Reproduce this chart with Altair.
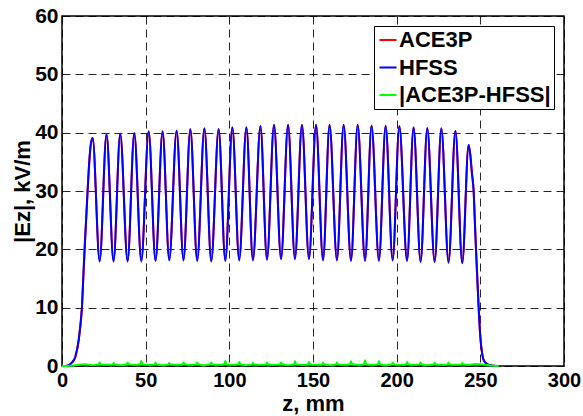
import altair as alt
import pandas as pd

# ---- data ----
series_names = ["ACE3P", "HFSS", "|ACE3P-HFSS|"]
series_colors = ["#ff0000", "#0000ff", "#00ff00"]

x_ticks = [0, 50, 100, 150, 200, 250, 300]
y_ticks = [0, 10, 20, 30, 40, 50, 60]

# entrance ramp (z in mm, |Ez| in kV/m)
rise_z = [0, 2, 4, 6, 8, 10, 11, 11.9, 12.7, 13.5, 14.4, 15.3, 16.3, 17.2]
rise_v = [0, 0.02, 0.15, 0.6, 1.6, 4.5, 7, 10, 15, 20, 25, 30, 35, 38]

# field maxima
peak_z = [18.3, 26.6, 34.8, 43.2, 51.8, 60.1, 68.5, 76.7, 85.1, 93.6,
          101.8, 110.2, 118.6, 126.7, 135.1, 143.4, 151.8, 159.9, 168.3, 176.7,
          185.0, 193.4, 201.6, 210.1, 218.3, 226.7, 235.1, 243.0]
peak_v = [39.1, 39.7, 39.8, 39.9, 40.2, 40.2, 40.35, 40.6, 40.7, 40.6,
          40.9, 40.9, 41.1, 41.3, 41.3, 41.3, 41.3, 41.3, 41.3, 41.3,
          41.2, 41.15, 41.1, 40.9, 40.75, 40.7, 40.3, 37.9]

# field minima
trough_z = [22.5, 30.8, 39.2, 47.4, 55.9, 64.1, 72.6, 80.8, 89.2, 97.6,
            105.9, 114.1, 122.5, 130.9, 139.2, 147.6, 156.0, 164.3, 172.7, 181.1,
            189.4, 197.6, 206.2, 214.3, 222.7, 231.0, 239.2]
hfss_trough_v = [17.9, 17.9, 17.9, 17.9, 18.0, 18.1, 18.1, 18.0, 17.9, 18.0,
                 18.1, 18.1, 18.2, 18.3, 18.3, 18.3, 18.1, 18.1, 18.0, 18.0,
                 18.0, 18.1, 18.0, 17.8, 17.8, 17.7, 17.6]
ace3p_trough_v = [18.1, 18.1, 18.1, 18.2, 18.2, 18.3, 18.3, 18.2, 18.1, 18.3,
                  18.3, 18.3, 18.4, 18.5, 18.6, 18.5, 18.3, 18.3, 18.3, 18.4,
                  18.3, 18.3, 18.2, 18.0, 18.0, 17.9, 17.8]

# exit ramp
fall_z = [244.0, 245.0, 246.0, 246.7, 247.4, 248.2, 249.0, 250.0, 251.0, 252.0,
          254.0, 256.0, 258.0, 261.0]
fall_v = [36.2, 33.0, 30.0, 25.0, 20.0, 15.0, 10.0, 5.0, 2.3, 1.0,
          0.35, 0.12, 0.04, 0.0]

# |ACE3P - HFSS|
green_z = [0, 5, 10, 14, 18.3,
           21.9, 22.5, 23.1, 26.6,
           30.2, 30.8, 31.4, 34.8,
           38.6, 39.2, 39.8, 43.2,
           46.8, 47.4, 48.0, 51.8,
           55.3, 55.9, 56.5, 60.1,
           63.5, 64.1, 64.7, 68.5,
           72.0, 72.6, 73.2, 76.7,
           80.2, 80.8, 81.4, 85.1,
           88.6, 89.2, 89.8, 93.6,
           97.0, 97.6, 98.2, 101.8,
           105.3, 105.9, 106.5, 110.2,
           113.5, 114.1, 114.7, 118.6,
           121.9, 122.5, 123.1, 126.7,
           130.3, 130.9, 131.5, 135.1,
           138.6, 139.2, 139.8, 143.4,
           147.0, 147.6, 148.2, 151.8,
           155.4, 156.0, 156.6, 159.9,
           163.7, 164.3, 164.9, 168.3,
           172.1, 172.7, 173.3, 176.7,
           180.5, 181.1, 181.7, 185.0,
           188.8, 189.4, 190.0, 193.4,
           197.0, 197.6, 198.2, 201.6,
           205.6, 206.2, 206.8, 210.1,
           213.7, 214.3, 214.9, 218.3,
           222.1, 222.7, 223.3, 226.7,
           230.4, 231.0, 231.6, 235.1,
           238.6, 239.2, 239.8, 243.0,
           247.0, 252.0, 256.0, 261.0]
green_v = [0.0, 0.05, 0.2, 0.3, 0.15,
           0.25, 0.6, 0.3, 0.2,
           0.25, 0.5, 0.3, 0.15,
           0.25, 0.6, 0.3, 0.2,
           0.3, 0.9, 0.3, 0.2,
           0.25, 0.6, 0.3, 0.15,
           0.25, 0.5, 0.3, 0.2,
           0.25, 0.6, 0.35, 0.2,
           0.25, 0.6, 0.3, 0.15,
           0.3, 0.6, 0.3, 0.2,
           0.3, 0.9, 0.3, 0.2,
           0.25, 0.7, 0.3, 0.15,
           0.25, 0.5, 0.3, 0.2,
           0.25, 0.6, 0.3, 0.2,
           0.25, 0.6, 0.35, 0.15,
           0.3, 0.8, 0.3, 0.2,
           0.25, 0.7, 0.3, 0.2,
           0.25, 0.6, 0.3, 0.15,
           0.25, 0.6, 0.3, 0.2,
           0.3, 0.8, 0.35, 0.2,
           0.3, 1.0, 0.3, 0.2,
           0.3, 0.8, 0.3, 0.15,
           0.25, 0.6, 0.3, 0.2,
           0.25, 0.7, 0.3, 0.2,
           0.25, 0.6, 0.3, 0.15,
           0.25, 0.6, 0.3, 0.2,
           0.25, 0.6, 0.3, 0.2,
           0.25, 0.5, 0.3, 0.2,
           0.35, 0.25, 0.08, 0.0]


def build_curve(trough_v):
    pts = (list(zip(rise_z, rise_v)) + list(zip(peak_z, peak_v))
           + list(zip(trough_z, trough_v)) + list(zip(fall_z, fall_v)))
    pts.sort()
    return pts


rows = []
for name, tv in [("ACE3P", ace3p_trough_v), ("HFSS", hfss_trough_v)]:
    for i, (z, v) in enumerate(build_curve(tv)):
        rows.append({"z": z, "Ez": v, "series": name, "idx": i})
for i, (z, v) in enumerate(zip(green_z, green_v)):
    rows.append({"z": z, "Ez": v, "series": "|ACE3P-HFSS|", "idx": i})
df = pd.DataFrame(rows)

FONT = "Liberation Sans"

chart = alt.Chart(df).mark_line(interpolate="monotone", strokeWidth=2).encode(
    x=alt.X("z:Q",
            scale=alt.Scale(domain=[0, 300], nice=False, zero=False),
            axis=alt.Axis(values=x_ticks, title="z, mm", format="d",
                          labelFlush=False, labelOverlap=False,
                          labelFontSize=20,
                          labelBaseline="alphabetic", labelPadding=20,
                          titleX=251, titleY=44, titleBaseline="alphabetic")),
    y=alt.Y("Ez:Q",
            scale=alt.Scale(domain=[0, 60], nice=False, zero=False),
            axis=alt.Axis(values=y_ticks, title="|Ez|, kV/m", format="d",
                          labelFlush=False, labelOverlap=False,
                          labelBaseline="middle", labelPadding=4,
                          titleX=-33, titleY=175, titleAngle=270,
                          titleBaseline="alphabetic")),
    color=alt.Color("series:N",
                    scale=alt.Scale(domain=series_names, range=series_colors),
                    sort=series_names,
                    title=None,
                    legend=alt.Legend(orient="none", legendX=312, legendY=10,
                                      symbolType="stroke", symbolSize=289,
                                      symbolStrokeWidth=2, labelOffset=0,
                                      labelFontSize=22, labelFont=FONT,
                                      labelFontWeight="bold", labelColor="black",
                                      padding=3, rowPadding=5.5,
                                      strokeColor="black", fillColor="white",
                                      labelLimit=400)),
    order=alt.Order("idx:Q"),
).properties(
    width=502,
    height=350,
    background="white",
    autosize=alt.AutoSizeParams(type="none"),
    padding={"left": 62, "top": 16, "right": 19, "bottom": 50},
).configure_view(
    stroke="black", strokeWidth=1.5
).configure_axis(
    grid=True, gridColor="black", gridDash=[8, 5], gridWidth=1, gridOpacity=0.85,
    ticks=False, tickSize=0, domain=False,
    labelFont=FONT, labelFontSize=21, labelFontWeight="bold", labelColor="black",
    titleFont=FONT, titleFontSize=22, titleFontWeight="bold", titleColor="black",
)

chart.save("out.html", embed_options={"renderer": "svg", "actions": False})
